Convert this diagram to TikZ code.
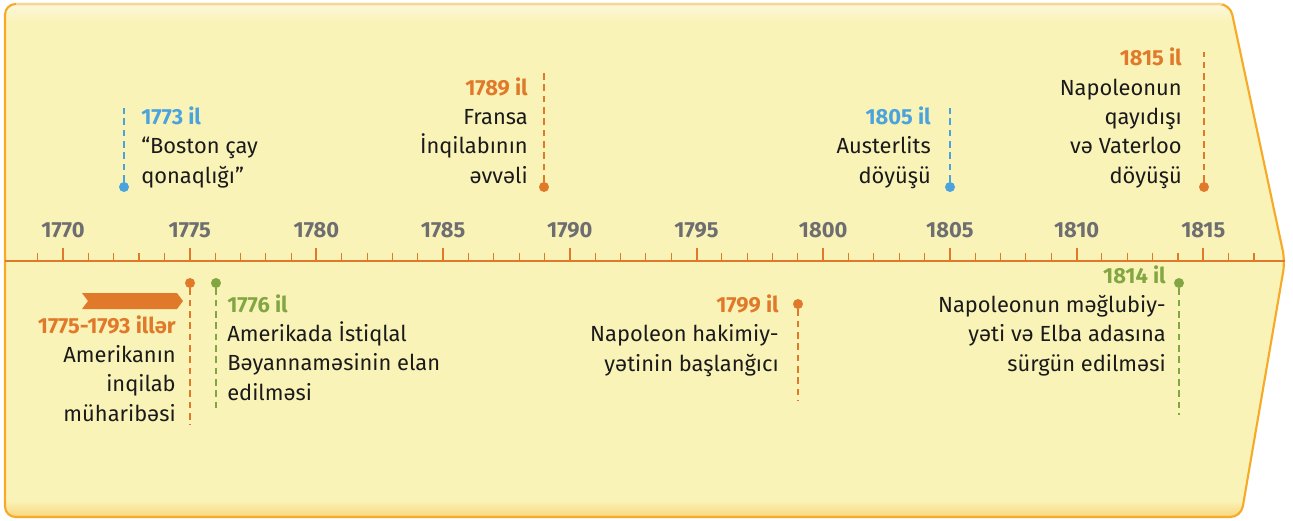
\documentclass[tikz,border=0pt]{standalone}
\usepackage{fontspec}
\setmainfont{Fira Sans}
\definecolor{bgfill}{HTML}{FAF3B8}
\definecolor{bgtop}{HTML}{FCF7DA}
\definecolor{bgbottom}{HTML}{F8D57A}
\definecolor{bgline}{HTML}{F6AA28}
\definecolor{bgtopline}{HTML}{F8D698}
\definecolor{tlorange}{HTML}{E07A2A}
\definecolor{tlblue}{HTML}{4BA3DE}
\definecolor{tlgreen}{HTML}{82A642}
\definecolor{tlgray}{HTML}{6E6E70}
\definecolor{ink}{HTML}{1A1A1A}
\begin{document}
\begin{tikzpicture}[
  x=0.75pt, y=-0.75pt,
  evtext/.style={font=\fontsize{16.4}{22}\selectfont, text=ink, inner sep=0pt},
  yearlbl/.style={font=\fontsize{16.4}{18}\selectfont\bfseries, text=tlgray, inner sep=0pt, anchor=base},
  pin/.style={circle, fill=#1, inner sep=0pt, minimum size=7.5pt},
  stem/.style={draw=#1, line width=1.8pt, dash pattern=on 5pt off 3.5pt},
]
  \useasboundingbox (0,0) rectangle (1293,521);
  % Background arrow
  \fill[bgfill, rounded corners=8pt]
    (5,517) -- (5,4) -- (1230,4) -- (1285,261) -- (1241,517) -- cycle;
  \begin{scope}
    \clip[rounded corners=8pt] (5,517) -- (5,4) -- (1230,4) -- (1285,261) -- (1241,517) -- cycle;
    \shade[top color=bgtop, bottom color=bgfill] (0,4) rectangle (1293,22);
    \shade[top color=bgfill, bottom color=bgbottom] (0,500) rectangle (1293,518);
  \end{scope}
  \draw[bgline, line width=1.6pt, rounded corners=8pt]
    (5,517) -- (5,4) -- (1230,4) -- (1285,261) -- (1241,517) -- cycle;
  \draw[bgtopline, line width=1.6pt] (16,4) -- (1222,4);
  % Axis and ticks
  \draw[tlorange, line width=2.2pt] (5,261) -- (1285,261);
  \foreach \y in {1769,...,1817} {
    \draw[tlorange, line width=0.8pt] ({63+(\y-1770)*25.34},261) -- ++(0,-8);
  }
  \foreach \y in {1770,1775,...,1815} {
    \draw[tlorange, line width=1.5pt] ({63+(\y-1770)*25.34},261) -- ++(0,-13);
    \node[yearlbl] (yr\y) at ({63+(\y-1770)*25.34},237) {\y};
  }

  % Events above the axis (anchored at the baseline of the last line)
  \node[pin=tlblue] (p1773) at (124,187) {};
  \coordinate (s1773) at (124,108);
  \draw[stem=tlblue] (p1773) -- (s1773);
  \node[evtext, anchor=base west, align=left] (t1773) at (141,183)
    {\textcolor{tlblue}{\bfseries 1773 il}\\“Boston çay\\qonaqlığı”};

  \node[pin=tlorange] (p1789) at (544,187) {};
  \coordinate (s1789) at (544,73);
  \draw[stem=tlorange] (p1789) -- (s1789);
  \node[evtext, anchor=base east, align=right] (t1789) at (528,183)
    {\textcolor{tlorange}{\bfseries 1789 il}\\Fransa\\İnqilabının\\əvvəli};

  \node[pin=tlblue] (p1805) at (950,187) {};
  \coordinate (s1805) at (950,108);
  \draw[stem=tlblue] (p1805) -- (s1805);
  \node[evtext, anchor=base east, align=right] (t1805) at (931,183)
    {\textcolor{tlblue}{\bfseries 1805 il}\\Austerlits\\döyüşü};

  \node[pin=tlorange] (p1815) at (1204,187) {};
  \coordinate (s1815) at (1204,52);
  \draw[stem=tlorange] (p1815) -- (s1815);
  \node[evtext, anchor=base east, align=right] (t1815) at (1182,183)
    {\textcolor{tlorange}{\bfseries 1815 il}\\Napoleonun\\qayıdışı\\və Vaterloo\\döyüşü};

  % Events below the axis
  \node[pin=tlorange] (p1775) at (190,283) {};
  \coordinate (s1775) at (190,425);
  \draw[stem=tlorange] (p1775) -- (s1775);
  \fill[tlorange] (82,293) -- (177,293) -- (183,301) -- (177,309) -- (82,309) -- (88,301) -- cycle;
  \node[evtext, anchor=base east, align=right] (t1775) at (176,421)
    {\textcolor{tlorange}{\bfseries 1775-1793 illər}\\Amerikanın\\inqilab\\müharibəsi};

  \node[pin=tlgreen] (p1776) at (216,283) {};
  \coordinate (s1776) at (216,412);
  \draw[stem=tlgreen] (p1776) -- (s1776);
  \node[evtext, anchor=base west, align=left] (t1776) at (227,400)
    {\textcolor{tlgreen}{\bfseries 1776 il}\\Amerikada İstiqlal\\Bəyannaməsinin elan\\edilməsi};

  \node[pin=tlorange] (p1799) at (798,304) {};
  \coordinate (s1799) at (798,400);
  \draw[stem=tlorange] (p1799) -- (s1799);
  \node[evtext, anchor=base east, align=right] (t1799) at (779,371)
    {\textcolor{tlorange}{\bfseries 1799 il}\\Napoleon hakimiy-\\yətinin başlanğıcı};

  \node[pin=tlgreen] (p1814) at (1179,283) {};
  \coordinate (s1814) at (1179,415);
  \draw[stem=tlgreen] (p1814) -- (s1814);
  \node[evtext, anchor=base east, align=right] (t1814) at (1166,371)
    {\textcolor{tlgreen}{\bfseries 1814 il}\\Napoleonun məğlubiy-\\yəti və Elba adasına\\sürgün edilməsi};
\end{tikzpicture}
\end{document}
